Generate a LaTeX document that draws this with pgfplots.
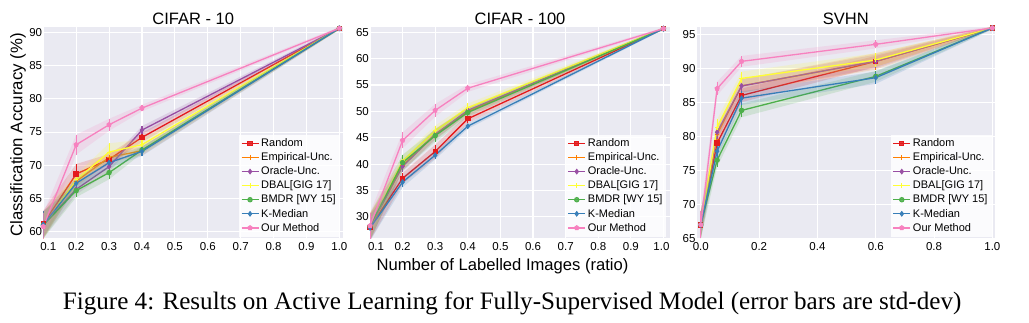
\documentclass[border=0pt]{standalone}
\usepackage{pgfplots}
\pgfplotsset{compat=1.18}
\usepackage{pgfplotstable}
\usepackage{fontspec}
\setmainfont{Liberation Sans}
\newfontfamily\capfont{Liberation Serif}

\definecolor{cR}{HTML}{E41A1C}
\definecolor{cE}{HTML}{FF7F00}
\definecolor{cO}{HTML}{984EA3}
\definecolor{cD}{HTML}{FFFF33}
\definecolor{cB}{HTML}{4DAF4A}
\definecolor{cK}{HTML}{377EB8}
\definecolor{cU}{HTML}{F781BF}
\definecolor{bg}{HTML}{EAEAF2}

% CIFAR-10 (s = +1 upper edge, s = -1 lower edge of the std band)
\pgfplotstableread{
x   s  R    Re  E    Ee  O    Oe  D    De  B    Be  K    Ke  U    Ue
0.1 1  61.2 2.0 61.0 2.0 61.1 2.0 60.9 2.0 61.0 2.0 61.1 2.0 60.8 2.0
0.2 1  68.7 1.5 67.6 0.8 66.4 0.8 67.8 0.8 66.2 1.0 67.3 0.7 73.1 1.5
0.3 1  70.9 0.8 71.2 0.8 69.8 0.8 72.0 1.3 68.9 1.0 70.4 0.8 76.1 0.9
0.4 1  74.2 0.7 72.2 0.7 75.3 0.6 73.1 0.8 72.3 0.5 72.1 0.7 78.6 0.5
1.0 1  90.6 0.2 90.6 0.2 90.6 0.2 90.6 0.2 90.6 0.2 90.6 0.2 90.6 0.2
1.0 -1 90.6 0.2 90.6 0.2 90.6 0.2 90.6 0.2 90.6 0.2 90.6 0.2 90.6 0.2
0.4 -1 74.2 0.7 72.2 0.7 75.3 0.6 73.1 0.8 72.3 0.5 72.1 0.7 78.6 0.5
0.3 -1 70.9 0.8 71.2 0.8 69.8 0.8 72.0 1.3 68.9 1.0 70.4 0.8 76.1 0.9
0.2 -1 68.7 1.5 67.6 0.8 66.4 0.8 67.8 0.8 66.2 1.0 67.3 0.7 73.1 1.5
0.1 -1 61.2 2.0 61.0 2.0 61.1 2.0 60.9 2.0 61.0 2.0 61.1 2.0 60.8 2.0
}\bandA
% CIFAR-100
\pgfplotstableread{
x   s  R    Re  E    Ee  O    Oe  D    De  B    Be  K    Ke  U    Ue
0.1 1  28.0 2.5 28.0 2.5 28.1 2.5 28.2 2.5 28.2 2.5 27.9 2.5 28.3 2.5
0.2 1  37.3 1.0 39.8 1.0 39.6 1.0 40.6 1.0 40.3 1.5 36.6 1.0 44.5 1.5
0.3 1  42.4 1.3 45.7 1.0 45.6 1.0 46.3 1.0 45.4 1.2 41.7 0.8 50.2 1.2
0.4 1  48.6 0.8 50.0 0.7 50.2 0.7 50.7 0.8 49.8 0.8 47.2 0.5 54.4 0.7
1.0 1  65.7 0.2 65.7 0.2 65.7 0.2 65.7 0.2 65.7 0.2 65.7 0.2 65.7 0.2
1.0 -1 65.7 0.2 65.7 0.2 65.7 0.2 65.7 0.2 65.7 0.2 65.7 0.2 65.7 0.2
0.4 -1 48.6 0.8 50.0 0.7 50.2 0.7 50.7 0.8 49.8 0.8 47.2 0.5 54.4 0.7
0.3 -1 42.4 1.3 45.7 1.0 45.6 1.0 46.3 1.0 45.4 1.2 41.7 0.8 50.2 1.2
0.2 -1 37.3 1.0 39.8 1.0 39.6 1.0 40.6 1.0 40.3 1.5 36.6 1.0 44.5 1.5
0.1 -1 28.0 2.5 28.0 2.5 28.1 2.5 28.2 2.5 28.2 2.5 27.9 2.5 28.3 2.5
}\bandB
% SVHN
\pgfplotstableread{
x     s  R    Re  E    Ee  O    Oe  D    De  B    Be  K    Ke  U    Ue
0.0   1  67.0 2.0 67.0 2.0 67.0 2.0 67.0 2.0 67.0 2.0 67.0 2.0 67.0 2.0
0.056 1  79.0 1.2 80.3 1.0 80.6 1.0 81.3 1.2 76.5 1.0 77.8 1.0 87.0 1.0
0.14  1  86.0 1.0 87.4 1.0 87.4 1.0 88.5 1.0 83.8 1.0 85.6 1.0 91.0 0.8
0.6   1  91.0 0.8 91.0 1.2 91.0 1.0 91.2 1.0 88.8 0.8 88.6 0.9 93.5 0.6
1.0   1  95.9 0.2 95.9 0.2 95.9 0.2 95.9 0.2 95.9 0.2 95.9 0.2 95.9 0.2
1.0   -1 95.9 0.2 95.9 0.2 95.9 0.2 95.9 0.2 95.9 0.2 95.9 0.2 95.9 0.2
0.6   -1 91.0 0.8 91.0 1.2 91.0 1.0 91.2 1.0 88.8 0.8 88.6 0.9 93.5 0.6
0.14  -1 86.0 1.0 87.4 1.0 87.4 1.0 88.5 1.0 83.8 1.0 85.6 1.0 91.0 0.8
0.056 -1 79.0 1.2 80.3 1.0 80.6 1.0 81.3 1.2 76.5 1.0 77.8 1.0 87.0 1.0
0.0   -1 67.0 2.0 67.0 2.0 67.0 2.0 67.0 2.0 67.0 2.0 67.0 2.0 67.0 2.0
}\bandC

% #1 colour, #2 mark, #3 table, #4 column, #5 legend text
\newcommand{\ser}[5]{%
 \addplot[fill=#1, fill opacity=0.17, draw=none, forget plot]
   table[x=x, y expr=\thisrow{#4}+\thisrow{s}*\thisrow{#4e}] {#3};
 \addplot[color=#1, line width=1.3pt, mark=#2, mark size=2.2pt, mark options={solid, fill=#1, line width=1pt},
   restrict expr to domain={\thisrow{s}}{0:2},
   error bars/.cd, y dir=both, y explicit, error bar style={line width=1.1pt, color=#1}, error mark=none]
   table[x=x, y=#4, y error=#4e] {#3};
 \addlegendentry{#5}
}
\newcommand{\allser}[1]{%
 \ser{cR}{square*}{#1}{R}{Random}
 \ser{cE}{+}{#1}{E}{Empirical-Unc.}
 \ser{cO}{diamond*}{#1}{O}{Oracle-Unc.}
 \ser{cD}{+}{#1}{D}{DBAL[GIG 17]}
 \ser{cB}{*}{#1}{B}{BMDR [WY 15]}
 \ser{cK}{diamond*}{#1}{K}{K-Median}
 \ser{cU}{pentagon*}{#1}{U}{Our Method}
}

\pgfplotsset{
 panel/.style={
  scale only axis, width=300pt, height=211.2pt,
  axis background/.style={fill=bg},
  axis line style={draw=none},
  major tick length=0pt,
  grid=major, major grid style={white, line width=1.1pt},
  tick label style={font=\fontsize{11.5}{13}\selectfont},
  /pgf/number format/assume math mode=true,
  yticklabel style={inner xsep=1pt},
  title style={font=\fontsize{16.5}{19}\selectfont, anchor=base, yshift=-3.5pt},
  legend style={at={(0.989,0.008)}, anchor=south east, fill=white, fill opacity=0.85, text opacity=1,
    draw=none, font=\fontsize{11}{12}\selectfont, row sep=0.6pt, inner sep=2pt},
  legend cell align=left,
 }
}

\begin{document}
\begin{tikzpicture}
\path[use as bounding box] (0,0) rectangle (1029pt,323pt);

\begin{axis}[panel, at={(43.3pt,84.5pt)}, anchor=south west,
  title={CIFAR - 10},
  xmin=0.1, xmax=1.012, ymin=59.0, ymax=90.75,
  xtick={0.1,0.2,0.3,0.4,0.5,0.6,0.7,0.8,0.9,1.0},
  xticklabels={\hspace*{10pt}0.1,0.2,0.3,0.4,0.5,0.6,0.7,0.8,0.9,1.0},
  ytick={60,65,70,75,80,85,90}]
\allser{\bandA}
\end{axis}

\begin{axis}[panel, at={(370pt,84.5pt)}, anchor=south west,
  title={CIFAR - 100},
  xmin=0.1, xmax=1.02, ymin=25.9, ymax=65.95,
  xtick={0.1,0.2,0.3,0.4,0.5,0.6,0.7,0.8,0.9,1.0},
  xticklabels={\hspace*{12pt}0.1,0.2,0.3,0.4,0.5,0.6,0.7,0.8,0.9,1.0\hspace*{4pt}},
  ytick={30,35,40,45,50,55,60,65}]
\allser{\bandB}
\end{axis}

\begin{axis}[panel, width=298.3pt, at={(696.7pt,84.5pt)}, anchor=south west,
  title={SVHN},
  xmin=-0.014, xmax=1.009, ymin=65, ymax=96.0,
  xtick={0,0.2,0.4,0.6,0.8,1.0},
  xticklabel style={/pgf/number format/.cd, fixed, fixed zerofill, precision=1},
  ytick={65,70,75,80,85,90,95}]
\allser{\bandC}
\end{axis}

\node[rotate=90, font=\fontsize{16.8}{19}\selectfont, inner sep=0] at (18pt,188pt) {Classification Accuracy (\%)};
\node[anchor=base, font=\fontsize{16.6}{19}\selectfont, inner sep=0] at (502.5pt,52pt) {Number of Labelled Images (ratio)};
\node[anchor=base west, font=\capfont\fontsize{25.1}{28}\selectfont, inner sep=0] at (62.7pt,13.7pt) {Figure 4: Results on Active Learning for Fully-Supervised Model (error bars are std-dev)};
\end{tikzpicture}
\end{document}
